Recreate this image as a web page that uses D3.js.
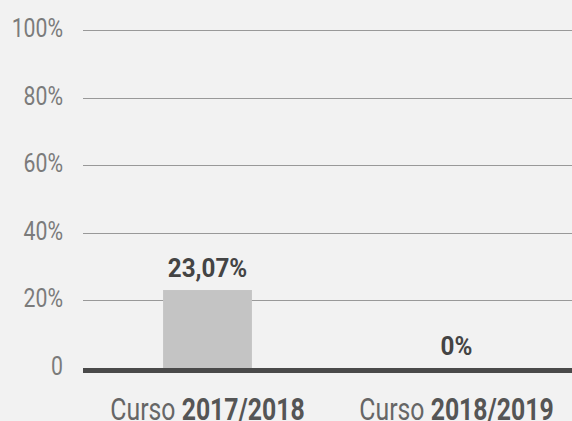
<!DOCTYPE html>
<html>
<head>
<meta charset="utf-8">
<script src="https://cdn.jsdelivr.net/npm/d3@7"></script>
<style>
  body { margin: 0; background: #f2f2f2; overflow: hidden; }
  svg text { font-family: "Roboto", "Liberation Sans", sans-serif; }
</style>
</head>
<body>
<div id="chart"></div>
<script>
// data
const cursos = ["2017/2018", "2018/2019"];
const valores = [23.07, 0];
const etiquetas = ["23,07%", "0%"];
const yTicks = [0, 20, 40, 60, 80, 100];

const width = 572,
  height = 421,
  margin = { top: 30, bottom: 53, left: 83, right: -9 };

const svg = d3.select("#chart")
  .append("svg")
  .attr("width", width)
  .attr("height", height)
  .style("display", "block");

const x = d3.scaleBand()
  .domain(cursos)
  .range([margin.left, width - margin.right])
  .padding(0);

const y = d3.scaleLinear()
  .domain([0, 100])
  .range([height - margin.bottom, margin.top]);

// gridlines + labels
svg.selectAll("line.grid")
  .data(yTicks.filter(d => d > 0))
  .join("line")
  .attr("class", "grid")
  .attr("x1", margin.left)
  .attr("x2", width)
  .attr("y1", d => Math.round(y(d)) + 0.5)
  .attr("y2", d => Math.round(y(d)) + 0.5)
  .attr("stroke", "#999")
  .attr("stroke-width", 1);

svg.selectAll("text.ytick")
  .data(yTicks)
  .join("text")
  .attr("class", "ytick")
  .attr("transform", d => `translate(63,${y(d) + 7}) scale(0.85,1)`)
  .attr("text-anchor", "end")
  .attr("font-size", 25)
  .attr("fill", "#7b7b7b")
  .text(d => d === 0 ? "0" : d + "%");

// bars
const barW = x.bandwidth() * 0.357;
svg.selectAll("rect.bar")
  .data(cursos)
  .join("rect")
  .attr("class", "bar")
  .attr("x", (d) => x(d) + (x.bandwidth() - barW) / 2)
  .attr("width", barW)
  .attr("y", (d, i) => y(valores[i]))
  .attr("height", (d, i) => y(0) - y(valores[i]))
  .attr("fill", "#c4c4c4");

// baseline
svg.append("line")
  .attr("x1", margin.left)
  .attr("x2", width)
  .attr("y1", y(0) + 2.5)
  .attr("y2", y(0) + 2.5)
  .attr("stroke", "#4a4a4a")
  .attr("stroke-width", 5);

// value labels
svg.selectAll("text.val")
  .data(cursos)
  .join("text")
  .attr("class", "val")
  .attr("transform", (d, i) => `translate(${x(d) + x.bandwidth() / 2},${y(valores[i]) - 13}) scale(0.97,1)`)
  .attr("text-anchor", "middle")
  .attr("font-size", 25)
  .attr("font-weight", "bold")
  .attr("fill", "#444")
  .text((d, i) => etiquetas[i]);

// x labels
const xl = svg.selectAll("text.xlab")
  .data(cursos)
  .join("text")
  .attr("class", "xlab")
  .attr("transform", d => `translate(${x(d) + x.bandwidth() / 2},420) scale(0.8,1)`)
  .attr("text-anchor", "middle")
  .attr("font-size", 31)
  .attr("fill", "#666");
xl.append("tspan").text("Curso ");
xl.append("tspan").attr("font-weight", "bold").attr("fill", "#555").text(d => d);
</script>
</body>
</html>
